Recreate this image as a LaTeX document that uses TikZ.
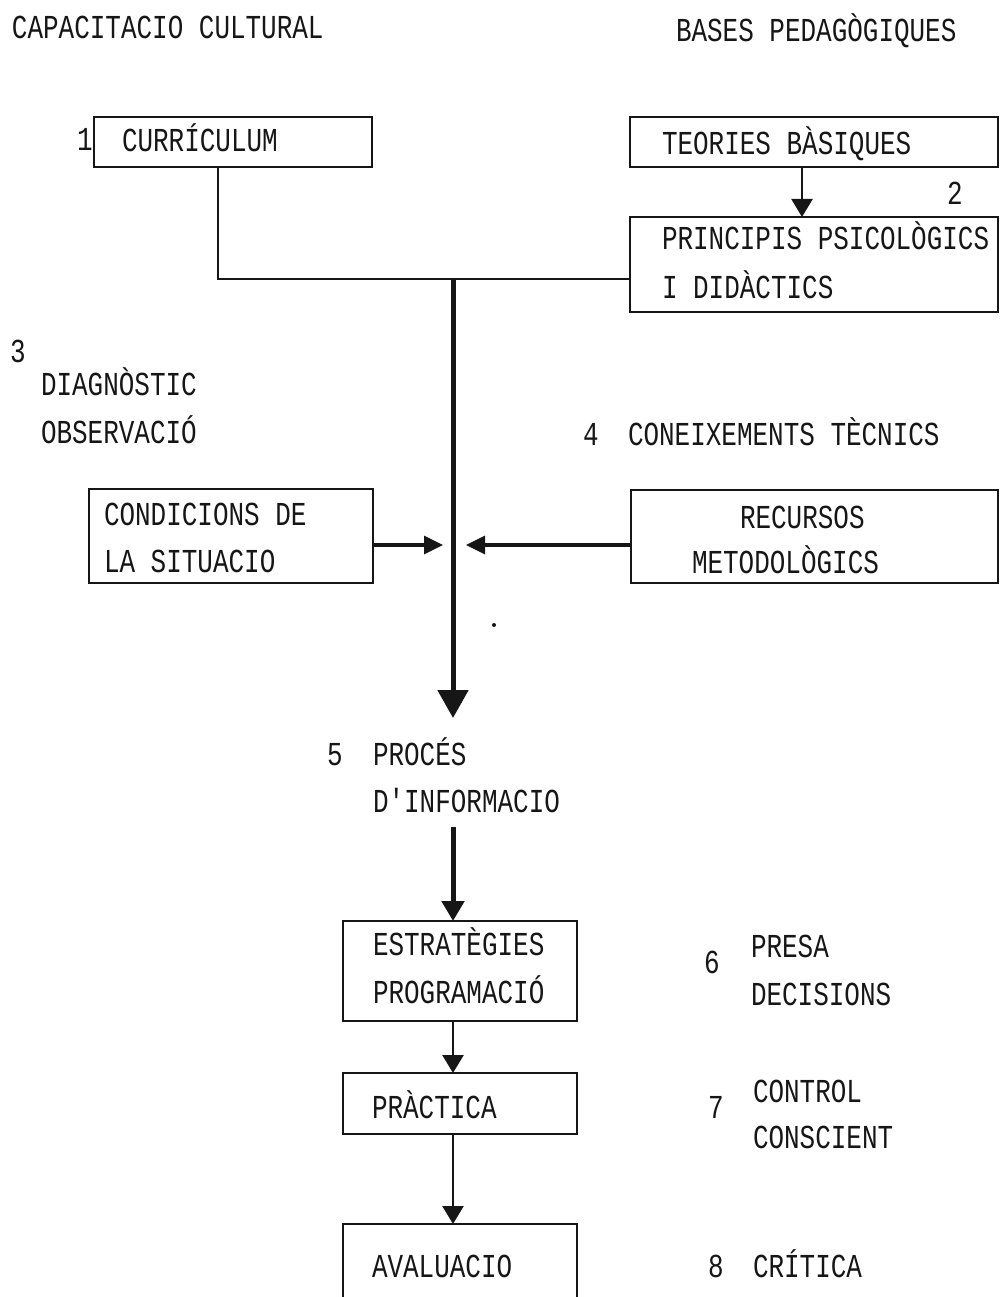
\documentclass[tikz,border=0pt]{standalone}
\usepackage{fontspec}
\newfontfamily\tw{Liberation Mono}[FakeStretch=0.775]
\usetikzlibrary{arrows.meta}
\definecolor{ink}{HTML}{161616}
\begin{document}
\begin{tikzpicture}[x=1pt,y=-1pt,
  every node/.style={font=\tw\fontsize{33.5}{33.5}\selectfont, text=ink},
  txt/.style={anchor=base west, inner sep=0pt, outer sep=0pt},
  box/.style={draw=ink, line width=2.4pt, anchor=north west, inner sep=0pt, outer sep=0pt},
  link/.style={draw=ink, line width=2.4pt},
  flow/.style={draw=ink, line width=5pt},
  side/.style={draw=ink, line width=3.4pt, -{Triangle[width=18pt,length=19pt]}},
  small/.style={-{Triangle[width=21pt,length=18pt]}}
]
\useasboundingbox (0,0) rectangle (1000,1297);
\clip (0,0) rectangle (1000,1297);
\fill[white] (0,0) rectangle (1000,1297);

% headings
\node[txt] (hcult) at (12,39) {CAPACITACIO CULTURAL};
\node[txt] (hped) at (676,42) {BASES PEDAGÒGIQUES};

% boxes
\node[box, minimum width=278pt, minimum height=50pt] (cur) at (94,117) {};
\node[box, minimum width=368pt, minimum height=50pt] (teo) at (630,117) {};
\node[box, minimum width=368pt, minimum height=95pt] (pri) at (630,217) {};
\node[box, minimum width=284pt, minimum height=94pt] (cond) at (89,489) {};
\node[box, minimum width=367pt, minimum height=93pt] (rec) at (631,490) {};
\node[box, minimum width=234pt, minimum height=100pt] (est) at (343,921) {};
\node[box, minimum width=234pt, minimum height=61pt] (pra) at (343,1073) {};
\node[box, minimum width=234pt, minimum height=110pt] (ava) at (343,1224) {};

% texts
\node[txt] (n1) at (77,151) {1};
\node[txt] (tcur) at (122,152) {CURRÍCULUM};
\node[txt] (tteo) at (662,155) {TEORIES BÀSIQUES};
\node[txt] (n2) at (947,205) {2};
\node[txt] (tpri1) at (662,250) {PRINCIPIS PSICOLÒGICS};
\node[txt] (tpri2) at (662,298) {I DIDÀCTICS};
\node[txt] (n3) at (10,362) {3};
\node[txt] (tdia) at (41,395) {DIAGNÒSTIC};
\node[txt] (tobs) at (41,443) {OBSERVACIÓ};
\node[txt] (n4) at (583,445) {4};
\node[txt] (tcon) at (628,445) {CONEIXEMENTS TÈCNICS};
\node[txt] (tcond1) at (104,525) {CONDICIONS DE};
\node[txt] (tcond2) at (104,572) {LA SITUACIO};
\node[txt] (trec1) at (740,528) {RECURSOS};
\node[txt] (trec2) at (692,573) {METODOLÒGICS};
\node[txt] (n5) at (327,765) {5};
\node[txt] (tproc1) at (373,765) {PROCÉS};
\node[txt] (tproc2) at (373,812) {D\char"27 INFORMACIO};
\node[txt] (test1) at (373,955) {ESTRATÈGIES};
\node[txt] (test2) at (373,1003) {PROGRAMACIÓ};
\node[txt] (n6) at (704,973) {6};
\node[txt] (tdec1) at (751,957) {PRESA};
\node[txt] (tdec2) at (751,1005) {DECISIONS};
\node[txt] (tpra) at (372,1118) {PRÀCTICA};
\node[txt] (n7) at (708,1118) {7};
\node[txt] (tctl1) at (753,1102) {CONTROL};
\node[txt] (tctl2) at (753,1148) {CONSCIENT};
\node[txt] (tava) at (372,1277) {AVALUACIO};
\node[txt] (n8) at (708,1277) {8};
\node[txt] (tcri) at (753,1277) {CRÍTICA};

% connection points
\coordinate (curout) at (218,167);
\coordinate (priin) at (630,279);
\coordinate (join) at (453,279);
\coordinate (mainend) at (453,718);
\coordinate (condtip) at (443,545);
\coordinate (rectip) at (466,545);
\coordinate (procout) at (453,827);

% connectors
\draw[link] (curout) |- (priin);
\draw[link, small] ([xshift=-12pt]teo.south) -- ([xshift=-12pt]pri.north);
\draw[flow, -{Triangle[width=30pt,length=28pt]}] (join) -- (mainend);
\draw[side] (cond.east |- condtip) -- (condtip);
\draw[side] (rec.west |- rectip) -- (rectip);
\draw[flow, -{Triangle[width=22pt,length=20pt]}] (procout) -- ([xshift=-7pt]est.north);
\draw[link, small] ([xshift=-7pt]est.south) -- ([xshift=-7pt]pra.north);
\draw[link, small] ([xshift=-7pt]pra.south) -- ([xshift=-7pt]ava.north);

% stray mark
\fill[ink] (494,625) circle (2pt);
\end{tikzpicture}
\end{document}
